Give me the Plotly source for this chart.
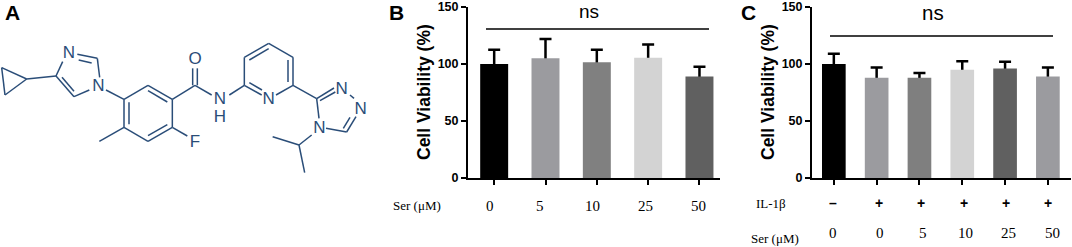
import plotly.graph_objects as go

W, H = 1072, 247

# Panel B
b_doses = ["0", "5", "10", "25", "50"]
b_means = [100, 105, 101.5, 105.5, 89]
b_errs = [12.5, 17, 11, 11.5, 8.5]
b_colors = ["#000000", "#9b9b9f", "#808080", "#d3d3d3", "#606060"]

# Panel C
c_il1b = ["–", "+", "+", "+", "+", "+"]
c_doses = ["0", "0", "5", "10", "25", "50"]
c_means = [100, 88, 88, 95, 96, 89]
c_errs = [9, 9, 4, 7.5, 6, 8]
c_colors = ["#000000", "#9b9b9f", "#7f7f7f", "#d3d3d3", "#606060", "#9b9b9f"]

y_ticks = [0, 50, 100, 150]

# Panel A: molecule drawing (diagram units)
bonds = [
    [(5, 203), (80, 237)], [(80, 237), (15, 285)], [(15, 285), (5, 203)], [(80, 237), (168, 228)],
    [(168, 228), (188, 185)], [(232, 163), (292, 175)], [(236, 180), (275, 189)], [(292, 175), (299, 232)],
    [(268, 270), (222, 290)], [(222, 290), (168, 228)], [(222, 274), (186, 232)],
    [(318, 270), (372, 298)],
    [(372, 298), (444, 256)], [(444, 256), (517, 298)], [(517, 298), (517, 382)], [(517, 382), (444, 424)],
    [(444, 424), (372, 382)], [(372, 382), (372, 298)], [(444, 272), (502, 306)], [(502, 374), (444, 407)],
    [(387, 373), (387, 307)],
    [(372, 382), (298, 424)], [(517, 382), (562, 408)], [(517, 298), (585, 256)],
    [(578, 256), (578, 205)], [(592, 256), (592, 205)],
    [(585, 256), (635, 285)], [(688, 285), (733, 256)],
    [(733, 256), (733, 172)], [(733, 172), (806, 130)], [(806, 130), (879, 172)], [(879, 172), (879, 256)],
    [(733, 256), (785, 285)], [(828, 285), (879, 256)], [(748, 248), (786, 270)], [(748, 180), (806, 146)],
    [(864, 180), (864, 246)],
    [(879, 256), (950, 296)], [(950, 296), (1002, 264)], [(960, 302), (1006, 276)],
    [(1050, 285), (1062, 295)], [(1068, 350), (1040, 396)], [(1050, 352), (1030, 385)],
    [(1040, 396), (978, 385)], [(950, 296), (957, 355)],
    [(935, 405), (897, 435)], [(897, 435), (818, 410)], [(897, 435), (914, 518)],
]
atoms_x = [207, 295, 585, 585, 660, 660, 806, 1025, 1082, 958]
atoms_y = [160, 260, 178, 428, 300, 352, 300, 268, 330, 385]
atoms_t = ["N", "N", "O", "F", "N", "H", "N", "N", "N", "N"]

bx, by = [], []
for (p, q) in bonds:
    bx += [p[0], q[0], None]
    by += [p[1], q[1], None]

fig = go.Figure()
NAVY = "#2a4d78"
fig.add_trace(go.Scatter(x=bx, y=by, mode="lines", xaxis="x3", yaxis="y3",
                         line=dict(color=NAVY, width=1.5), hoverinfo="skip"))
fig.add_trace(go.Scatter(x=atoms_x, y=atoms_y, text=atoms_t, mode="text", xaxis="x3", yaxis="y3",
                         textfont=dict(family="Liberation Sans", size=17, color=NAVY), hoverinfo="skip"))

def add_bars(means, errs, colors, xa, ya, width):
    xs = list(range(len(means)))
    # Error bars sit on a hidden bar just under the bar top, so the lower cap is covered by the visible bar.
    under = [m - 2 for m in means]
    up = [e + 2 for e in errs]
    fig.add_trace(go.Bar(x=xs, y=under, xaxis=xa, yaxis=ya, width=width,
                         marker=dict(color="rgba(0,0,0,0)", line=dict(width=0)), hoverinfo="skip",
                         error_y=dict(type="data", symmetric=False, array=up, arrayminus=[0] * len(up),
                                      color="black", thickness=2.5, width=6)))
    fig.add_trace(go.Bar(x=xs, y=means, xaxis=xa, yaxis=ya, width=width,
                         marker=dict(color=colors, line=dict(width=0))))

add_bars(b_means, b_errs, b_colors, "x", "y", 0.545)
add_bars(c_means, c_errs, c_colors, "x2", "y2", 0.553)

ytop, ybot = 1 - 7 / H, 1 - 178 / H
def xaxis(x0, x1, rng, n):
    return dict(domain=[x0 / W, x1 / W], range=rng, tickmode="array", tickvals=list(range(n)), showticklabels=False,
                ticks="outside", ticklen=5, tickwidth=2, tickcolor="black", showline=True, linewidth=2,
                linecolor="black", showgrid=False, zeroline=False, fixedrange=True, automargin=False)
def yaxis(anchor):
    return dict(domain=[ybot, ytop], range=[0, 150], tickvals=y_ticks, anchor=anchor, ticks="outside", ticklen=5,
                tickwidth=2, tickcolor="black", showline=True, linewidth=2, linecolor="black", showgrid=False,
                zeroline=False, fixedrange=True, automargin=False,
                tickfont=dict(family="Liberation Sans", size=12.5, color="black", weight="bold"))

ann = []
def text(x, y, t, size, family="Liberation Serif", bold=False, rot=0):
    ann.append(dict(x=x / W, y=1 - y / H, xref="paper", yref="paper", text=f"<b>{t}</b>" if bold else t, showarrow=False,
                    xanchor="center", yanchor="middle", textangle=rot,
                    font=dict(family=family, size=size, color="black")))

SANS = "Liberation Sans"
text(12, 13, "A", 21, SANS, True)
text(397, 12, "B", 21, SANS, True)
text(748, 12, "C", 21, SANS, True)
text(424, 92, "Cell Viability (%)", 17.5, SANS, True, -90)
text(768, 92, "Cell Viability (%)", 17.5, SANS, True, -90)
text(589, 11.5, "ns", 19, SANS)
text(933, 13, "ns", 20.5, SANS)
text(417, 205, "Ser (μM)", 13)
text(771, 203, "IL-1β", 13)
text(775, 238, "Ser (μM)", 13)

for lx, t in zip([490, 540, 593, 645, 698], b_doses):
    text(lx, 206, t, 15)
for lx, t in zip([833, 879, 921, 964, 1006, 1048], c_il1b):
    text(lx, 203, t, 14, SANS, True)
for lx, t in zip([833, 880, 923, 965, 1008, 1052], c_doses):
    text(lx, 233, t, 15)

shapes = [
    dict(type="line", xref="paper", yref="paper", x0=486 / W, x1=709 / W, y0=1 - 29 / H, y1=1 - 29 / H,
         line=dict(color="black", width=1.5)),
    dict(type="line", xref="paper", yref="paper", x0=830 / W, x1=1053 / W, y0=1 - 36 / H, y1=1 - 36 / H,
         line=dict(color="black", width=1.5)),
]

fig.update_layout(
    width=W, height=H, margin=dict(l=0, r=0, t=0, b=0), showlegend=False, plot_bgcolor="white", paper_bgcolor="white",
    barmode="overlay",
    xaxis=xaxis(468, 720, [-0.51, 4.4], 5), yaxis=yaxis("x"),
    xaxis2=xaxis(812, 1071, [-0.51, 5.54], 6), yaxis2=yaxis("x2"),
    xaxis3=dict(domain=[0, 380 / W], range=[0, 1140], visible=False, fixedrange=True, automargin=False),
    yaxis3=dict(domain=[0, 1], range=[741, 0], visible=False, anchor="x3", fixedrange=True, automargin=False),
    annotations=ann, shapes=shapes,
)
fig.write_html("out.html", post_script="document.body.style.margin='0';", config=dict(displayModeBar=False))
